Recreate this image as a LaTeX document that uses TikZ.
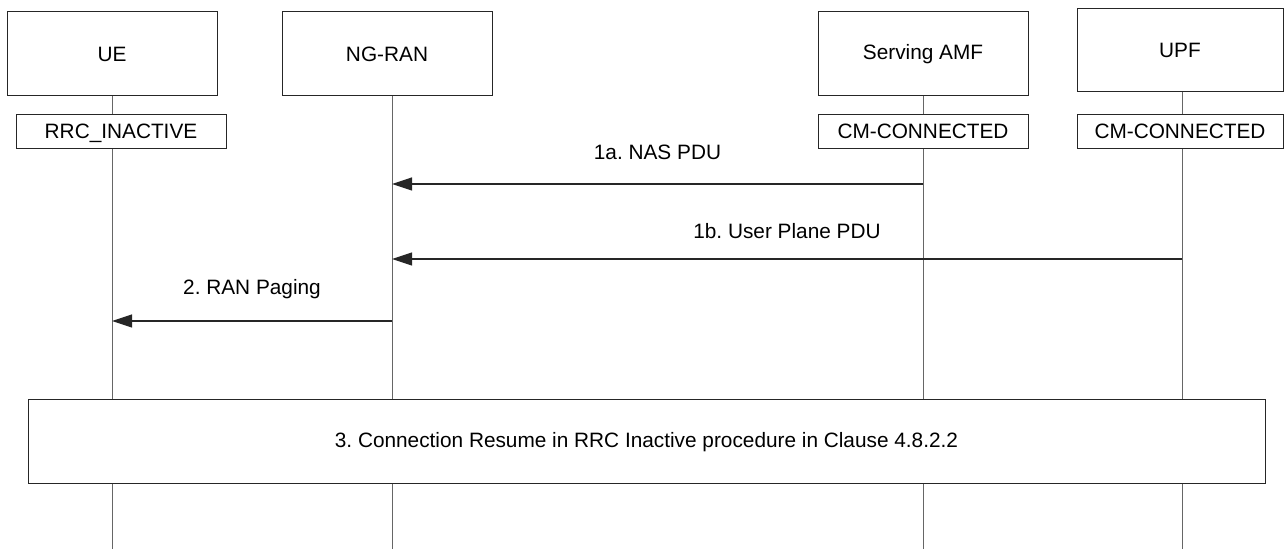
\documentclass[tikz,border=0pt]{standalone}
\usepackage{fontspec}
\setmainfont{Liberation Sans}
\usetikzlibrary{arrows.meta,positioning}
\frenchspacing

\begin{document}
\begin{tikzpicture}[x=0.5pt, y=-0.5pt, >={Triangle[length=10pt,width=6.5pt]},
  every node/.style={font=\fontsize{10.4}{12}\selectfont},
  ent/.style={draw=black!85, fill=white, minimum width=105pt, minimum height=42pt,
    inner sep=2pt, line width=0.5pt},
  stbox/.style={draw=black!85, fill=white, minimum width=105pt, minimum height=17pt,
    inner sep=1pt, line width=0.5pt, text height=7.5pt, text depth=0.6pt},
  life/.style={draw=black!60, line width=0.5pt},
  msg/.style={->, draw=black!85, line width=0.6pt},
  lbl/.style={inner sep=0pt, text depth=0pt}]
  \useasboundingbox (0,0) rectangle (1284,549);
  % entities
  \node[ent] (ue) at (112,54) {UE};
  \node[ent] (ran) at (387,54) {NG-RAN};
  \node[ent] (amf) at (923,54) {Serving AMF};
  \node[ent, minimum width=103pt, minimum height=41.5pt] (upf) at (1180,50.5) {UPF};
  % lifelines
  \coordinate (ueL) at (112,549);
  \coordinate (ranL) at (392,549);
  \coordinate (amfL) at (923,549);
  \coordinate (upfL) at (1182,549);
  \draw[life] (ue.south) -- (ueL);
  \draw[life] (ranL |- ran.south) -- (ranL);
  \draw[life] (amf.south) -- (amfL);
  \draw[life] (upfL |- upf.south) -- (upfL);
  % states
  \node[stbox] (uest) at (121,132) {RRC\_INACTIVE};
  \node[stbox] (amfst) at (923,132) {CM-CONNECTED};
  \node[stbox, minimum width=103pt] (upfst) at (1180,132) {CM-CONNECTED};
  % messages
  \coordinate (y1a) at (0,184);
  \coordinate (y1b) at (0,259);
  \coordinate (y2) at (0,321);
  \draw[msg] (amfL |- y1a) -- node[lbl, above=12pt] {1a. NAS PDU} (ranL |- y1a);
  \draw[msg] (upfL |- y1b) -- node[lbl, above=10pt] {1b. User Plane PDU} (ranL |- y1b);
  \draw[msg] (ranL |- y2) -- node[lbl, above=13pt] {2. RAN Paging} (ueL |- y2);
  % step 3
  \node[ent, minimum width=618.5pt] (resume) at (646.5,442)
    {3. Connection Resume in RRC Inactive procedure in Clause 4.8.2.2};
\end{tikzpicture}
\end{document}
